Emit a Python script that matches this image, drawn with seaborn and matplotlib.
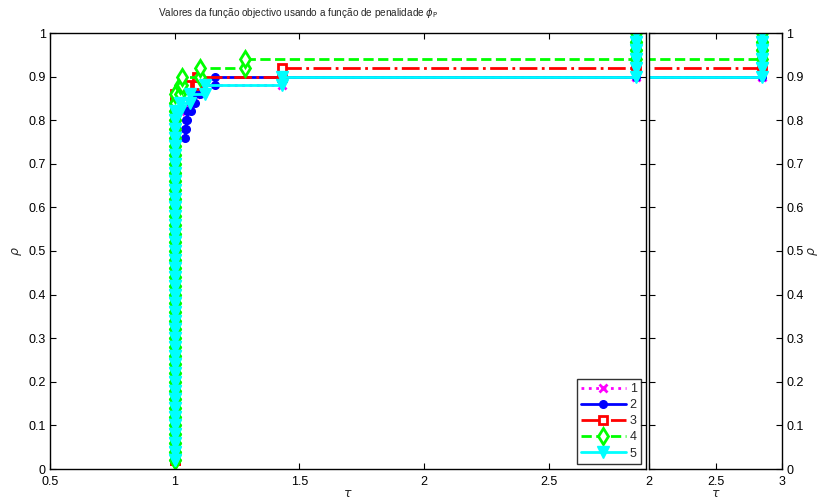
import numpy as np
import pandas as pd
import matplotlib
matplotlib.use("Agg")
import matplotlib.pyplot as plt
from matplotlib.ticker import FuncFormatter, MultipleLocator
from matplotlib import font_manager
import seaborn as sns

# Performance ratios r_{p,s} (sorted) for the 50 test problems, one list per solver.
# Failed runs are assigned the ratio r_M.
r_M = 2.85
ratios_1 = [1.00] * 41 + [1.02, 1.06, 1.11, 1.43] + [r_M] * 5
ratios_2 = [1.00] * 38 + [1.04, 1.045, 1.05, 1.065, 1.08, 1.10, 1.16] + [r_M] * 5
ratios_3 = [1.00] * 43 + [1.05, 1.09, 1.43] + [r_M] * 4
ratios_4 = [1.00] * 43 + [1.02, 1.03, 1.10, 1.28] + [r_M] * 3
ratios_5 = [1.00] * 41 + [1.02, 1.06, 1.12, 1.43] + [r_M] * 5

solver_labels = ["1", "2", "3", "4", "5"]
all_ratios = [ratios_1, ratios_2, ratios_3, ratios_4, ratios_5]

title_text = r"Valores da função objectivo usando a função de penalidade $\phi_\mathrm{P}$"
main_xticks = [0.5, 1, 1.5, 2, 2.5]
tail_xticks = [2, 2.5, 3]

styles = [
    dict(color="#ff00ff", linestyle=":", marker="x", markersize=6, markeredgewidth=2,
         markerfacecolor="#ff00ff"),
    dict(color="#0000ff", linestyle="-", marker="o", markersize=5.5, markeredgewidth=1,
         markerfacecolor="#0000ff"),
    dict(color="#ff0000", linestyle="-.", marker="s", markersize=5.5, markeredgewidth=2,
         markerfacecolor="white"),
    dict(color="#00ff00", linestyle="--", marker="d", markersize=8, markeredgewidth=2,
         markerfacecolor="white"),
    dict(color="#00ffff", linestyle="-", marker="v", markersize=9, markeredgewidth=1,
         markerfacecolor="#00ffff"),
]


def stairs(r):
    """Corner points of a stairs plot of rho_s(tau) = (1..n)/n against sorted ratios."""
    r = np.sort(np.asarray(r, dtype=float))
    n = len(r)
    y = np.arange(1, n + 1) / n
    xs = [r[0]]
    ys = [y[0]]
    for i in range(1, n):
        xs += [r[i], r[i]]
        ys += [y[i - 1], y[i]]
    return pd.DataFrame({"tau": xs, "rho": ys})


sns.set_theme(style="ticks")
avail = {f.name for f in font_manager.fontManager.ttflist}
base_font = "Liberation Sans" if "Liberation Sans" in avail else "DejaVu Sans"
plt.rcParams["font.family"] = [base_font, "DejaVu Sans"]
plt.rcParams["mathtext.fontset"] = "dejavusans"

fig = plt.figure(figsize=(8.17, 5.04), dpi=100)
ax = fig.add_axes([50 / 817, 35 / 504, 596 / 817, 436 / 504])
ax2 = fig.add_axes([649 / 817, 35 / 504, 133 / 817, 436 / 504])

for a in (ax, ax2):
    for lab, r, st in zip(solver_labels, all_ratios, styles):
        df = stairs(r)
        sns.lineplot(data=df, x="tau", y="rho", ax=a, sort=False, estimator=None,
                     label=lab, linewidth=2, markeredgecolor=st["color"], **st)

fmt = FuncFormatter(lambda v, p: f"{v:g}")
for a in (ax, ax2):
    a.set_ylim(0, 1)
    a.yaxis.set_major_locator(MultipleLocator(0.1))
    a.yaxis.set_major_formatter(fmt)
    a.xaxis.set_major_formatter(fmt)
    a.tick_params(direction="in", length=4, width=0.8, top=True, right=True,
                  labelsize=9, colors="black")
    a.tick_params(axis="x", pad=5)
    a.tick_params(axis="y", pad=3)
    for s in a.spines.values():
        s.set_linewidth(1.0)
        s.set_color("black")
    a.set_xlabel(r"$\tau$", fontsize=9, labelpad=0)

ax.set_xlim(0.5, 2.89)
ax.set_xticks(main_xticks)
ax.set_ylabel(r"$\rho$", fontsize=9, labelpad=3)

ax2.set_xlim(2, 3)
ax2.set_xticks(tail_xticks)
ax2.tick_params(labelleft=False, labelright=True)
ax2.yaxis.set_label_position("right")
ax2.set_ylabel(r"$\rho$", fontsize=9, labelpad=2)
ax2.get_legend().remove()

handles, labels = ax.get_legend_handles_labels()
ax.get_legend().remove()
leg = ax.legend(handles, labels, loc="lower right", fontsize=9, frameon=True,
                fancybox=False, edgecolor="black", handlelength=3.6,
                handletextpad=0.3, borderpad=0.35, labelspacing=0.33,
                borderaxespad=0.4)
leg.get_frame().set_linewidth(1.0)

fig.text(298 / 817, 1 - 13 / 504, title_text, ha="center", va="center", fontsize=7.2)

fig.savefig("out.png", dpi=100)
